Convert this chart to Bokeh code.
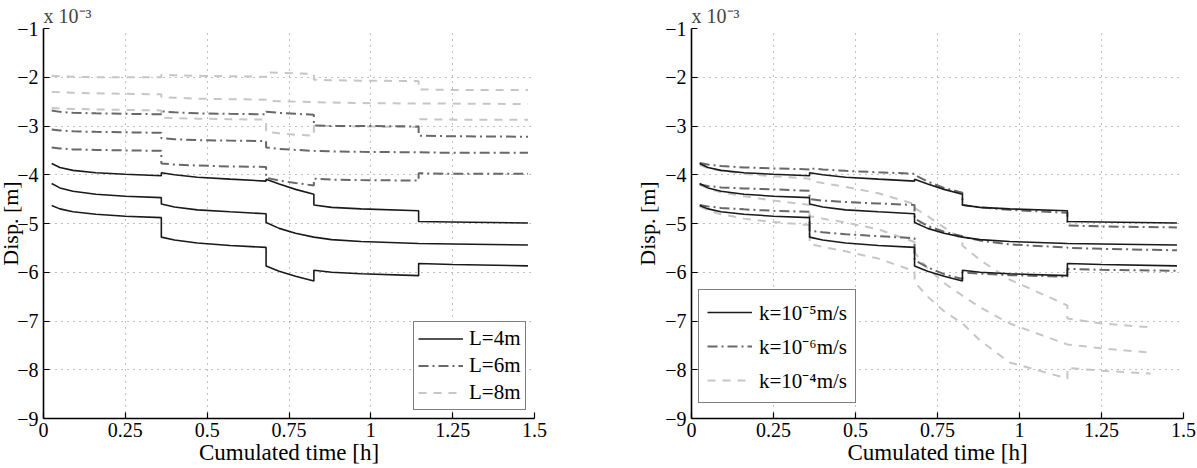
from bokeh.plotting import figure
from bokeh.layouts import row
from bokeh.models import (Range1d, FixedTicker, CustomJSTickFormatter,
                          Legend, LegendItem)
from bokeh.embed import file_html
from bokeh.resources import INLINE

# ---------------- data (displacement in units of 1e-3 m) ----------------
# cumulated time [h]; repeated times are load steps
T = [0.025, 0.05, 0.09, 0.16, 0.25, 0.36,
     0.36, 0.40, 0.47, 0.57, 0.68,
     0.68, 0.72, 0.77, 0.826,
     0.826, 0.88, 0.97, 1.146,
     1.146, 1.25, 1.48]
T_K4 = [0.025, 0.05, 0.09, 0.16, 0.25, 0.36,
        0.36, 0.40, 0.47, 0.57, 0.68,
        0.68, 0.72, 0.77, 0.826,
        0.826, 0.88, 0.97, 1.146,
        1.146, 1.25, 1.40]

# Left panel: pile length L
L4_a = [-3.77, -3.85, -3.91, -3.96, -3.99, -4.02,
        -3.96, -4.00, -4.05, -4.09, -4.13,
        -4.09, -4.19, -4.30, -4.40,
        -4.62, -4.67, -4.70, -4.74,
        -4.96, -4.97, -4.99]
L4_b = [-4.18, -4.27, -4.34, -4.40, -4.44, -4.47,
        -4.60, -4.66, -4.72, -4.76, -4.80,
        -4.98, -5.10, -5.20, -5.28,
        -5.28, -5.33, -5.37, -5.41,
        -5.41, -5.42, -5.44]
L4_c = [-4.63, -4.70, -4.76, -4.81, -4.85, -4.88,
        -5.28, -5.34, -5.40, -5.45, -5.49,
        -5.87, -5.98, -6.08, -6.18,
        -5.96, -6.00, -6.03, -6.07,
        -5.82, -5.84, -5.87]
L6_a = [-2.68, -2.71, -2.73, -2.74, -2.75, -2.76,
        -2.70, -2.72, -2.74, -2.75, -2.76,
        -2.71, -2.73, -2.75, -2.77,
        -2.99, -3.00, -3.00, -3.01,
        -3.20, -3.21, -3.22]
L6_b = [-3.07, -3.09, -3.11, -3.12, -3.13, -3.14,
        -3.25, -3.27, -3.29, -3.30, -3.31,
        -3.44, -3.47, -3.49, -3.51,
        -3.51, -3.52, -3.53, -3.54,
        -3.54, -3.55, -3.55]
L6_c = [-3.44, -3.46, -3.48, -3.49, -3.50, -3.51,
        -3.77, -3.79, -3.81, -3.83, -3.84,
        -4.06, -4.12, -4.17, -4.22,
        -4.08, -4.10, -4.11, -4.12,
        -3.97, -3.98, -3.98]
L8_a = [-1.97, -1.98, -1.99, -2.00, -2.00, -2.00,
        -1.95, -1.96, -1.97, -1.98, -1.99,
        -1.90, -1.91, -1.92, -1.93,
        -2.05, -2.06, -2.07, -2.08,
        -2.25, -2.26, -2.26]
L8_b = [-2.30, -2.31, -2.32, -2.33, -2.34, -2.35,
        -2.41, -2.42, -2.44, -2.45, -2.46,
        -2.48, -2.49, -2.50, -2.51,
        -2.51, -2.52, -2.53, -2.54,
        -2.54, -2.54, -2.55]
L8_c = [-2.63, -2.64, -2.65, -2.66, -2.67, -2.68,
        -2.83, -2.84, -2.85, -2.86, -2.87,
        -3.12, -3.15, -3.18, -3.20,
        -3.00, -3.00, -3.01, -3.02,
        -2.86, -2.87, -2.87]

# Right panel: permeability k (k=1e-5 equals the L=4m case)
K5_a, K5_b, K5_c = L4_a, L4_b, L4_c
K6_a = [-3.76, -3.79, -3.82, -3.85, -3.87, -3.89,
        -3.87, -3.89, -3.92, -3.95, -3.98,
        -4.00, -4.14, -4.27, -4.37,
        -4.62, -4.67, -4.72, -4.78,
        -5.04, -5.06, -5.08]
K6_b = [-4.20, -4.23, -4.26, -4.28, -4.30, -4.33,
        -4.50, -4.53, -4.56, -4.59, -4.62,
        -4.90, -5.05, -5.17, -5.26,
        -5.27, -5.35, -5.43, -5.49,
        -5.50, -5.52, -5.55]
K6_c = [-4.62, -4.65, -4.68, -4.71, -4.74, -4.76,
        -5.15, -5.18, -5.22, -5.26, -5.30,
        -5.75, -5.90, -6.04, -6.14,
        -6.00, -6.03, -6.06, -6.09,
        -5.93, -5.95, -5.97]
K4_a = [-3.80, -3.86, -3.92, -3.98, -4.03, -4.08,
        -4.12, -4.17, -4.25, -4.38, -4.60,
        -4.68, -4.85, -5.08, -5.33,
        -5.45, -5.75, -6.15, -6.68,
        -6.95, -7.05, -7.13]
K4_b = [-4.20, -4.28, -4.36, -4.44, -4.53, -4.62,
        -4.85, -4.90, -4.98, -5.12, -5.38,
        -5.60, -5.92, -6.22, -6.48,
        -6.48, -6.72, -7.05, -7.48,
        -7.48, -7.56, -7.65]
K4_c = [-4.65, -4.73, -4.81, -4.90, -4.97, -5.03,
        -5.42, -5.48, -5.57, -5.72, -5.98,
        -6.20, -6.50, -6.80, -7.05,
        -7.05, -7.40, -7.85, -8.18,
        -7.96, -8.02, -8.08]

X_TICKS = [0, 0.25, 0.5, 0.75, 1, 1.25, 1.5]
Y_TICKS = [-9, -8, -7, -6, -5, -4, -3, -2, -1]
X_LABEL = "Cumulated time [h]"
Y_LABEL = "Disp. [m]"
SCALE_TEXT = "x 10\u207b\u00b3"
LEFT_LEGEND = ["L=4m", "L=6m", "L=8m"]
RIGHT_LEGEND = ["k=10\u207b\u2075m/s", "k=10\u207b\u2076m/s", "k=10\u207b\u2074m/s"]

FONT = "Liberation Serif"
SOLID = dict(line_color="#1a1a1a", line_width=1.6)
DASHDOT = dict(line_color="#686868", line_width=2.0, line_dash="10 4 2 4")
DASHED = dict(line_color="#c6c6c6", line_width=2.0, line_dash="8 7")

FRAME_W = 492


def make_fig(width, left, ylabel_standoff):
    p = figure(width=width, height=468, output_backend="svg", toolbar_location=None,
               x_range=Range1d(0, 1.5), y_range=Range1d(-9, -1),
               min_border_left=left, min_border_right=width - left - FRAME_W,
               min_border_top=28, min_border_bottom=50,
               title=SCALE_TEXT)
    p.outline_line_color = None
    p.background_fill_color = "white"
    p.border_fill_color = "white"
    p.title.text_font = FONT
    p.title.text_font_size = "20px"
    p.title.text_font_style = "normal"
    p.title.align = "left"
    p.title.standoff = 3
    p.title.offset = 0
    fmt = CustomJSTickFormatter(code="return tick < 0 ? '\u2212' + String(-tick) : String(tick);")
    p.xaxis.ticker = FixedTicker(ticks=X_TICKS)
    p.yaxis.ticker = FixedTicker(ticks=Y_TICKS)
    p.xaxis.formatter = fmt
    p.yaxis.formatter = fmt
    for ax in (p.xaxis[0], p.yaxis[0]):
        ax.axis_line_width = 1.6
        ax.axis_line_color = "black"
        ax.major_tick_in = 6
        ax.major_tick_out = 0
        ax.major_tick_line_width = 1.2
        ax.major_tick_line_color = "black"
        ax.minor_tick_line_color = None
        ax.major_label_text_font = FONT
        ax.major_label_text_font_size = "20px"
        ax.major_label_text_color = "black"
        ax.axis_label_text_font = FONT
        ax.axis_label_text_font_style = "normal"
        ax.axis_label_text_color = "black"
    p.xaxis.axis_label = X_LABEL
    p.xaxis.axis_label_text_font_size = "23px"
    p.xaxis.major_label_standoff = 4
    p.xaxis.axis_label_standoff = 0
    p.yaxis.axis_label = Y_LABEL
    p.yaxis.axis_label_text_font_size = "22px"
    p.yaxis.major_label_standoff = 5
    p.yaxis.axis_label_standoff = ylabel_standoff
    p.xgrid.ticker = FixedTicker(ticks=X_TICKS)
    p.ygrid.ticker = FixedTicker(ticks=Y_TICKS)
    for g in (p.xgrid[0], p.ygrid[0]):
        g.grid_line_color = "#808080"
        g.grid_line_dash = "1 5"
        g.grid_line_width = 1
    return p


def style_legend(lg):
    lg.label_text_font = FONT
    lg.label_text_font_size = "21px"
    lg.label_text_color = "black"
    lg.border_line_color = "black"
    lg.border_line_width = 1.6
    lg.background_fill_color = "white"
    lg.background_fill_alpha = 1.0
    lg.glyph_width = 45
    lg.margin = 0


# ---------------- left panel ----------------
# wider canvas shifted 5px left so its frame starts where the reference's does
p1 = make_fig(605, 47, -9)
p1.margin = (0, 0, 0, -5)
r8 = [p1.line(T, ys, **DASHED) for ys in (L8_a, L8_b, L8_c)]
r6 = [p1.line(T, ys, **DASHDOT) for ys in (L6_a, L6_b, L6_c)]
r4 = [p1.line(T, ys, **SOLID) for ys in (L4_a, L4_b, L4_c)]
lg1 = Legend(items=[LegendItem(label=LEFT_LEGEND[0], renderers=[r4[0]]),
                    LegendItem(label=LEFT_LEGEND[1], renderers=[r6[0]]),
                    LegendItem(label=LEFT_LEGEND[2], renderers=[r8[0]])],
             location=(370, 8))
style_legend(lg1)
lg1.padding = 4
lg1.spacing = 2
lg1.label_standoff = 6
lg1.label_height = 21
lg1.glyph_height = 21
p1.add_layout(lg1)

# ---------------- right panel ----------------
p2 = make_fig(597, 91, 2)
k4 = [p2.line(T_K4, ys, **DASHED) for ys in (K4_a, K4_b, K4_c)]
k6 = [p2.line(T, ys, **DASHDOT) for ys in (K6_a, K6_b, K6_c)]
k5 = [p2.line(T, ys, **SOLID) for ys in (K5_a, K5_b, K5_c)]
lg2 = Legend(items=[LegendItem(label=RIGHT_LEGEND[0], renderers=[k5[0]]),
                    LegendItem(label=RIGHT_LEGEND[1], renderers=[k6[0]]),
                    LegendItem(label=RIGHT_LEGEND[2], renderers=[k4[0]])],
             location=(7, 15))
style_legend(lg2)
lg2.padding = 8
lg2.spacing = 6
lg2.label_standoff = 7
lg2.label_height = 26
lg2.glyph_height = 26
p2.add_layout(lg2)

layout = row(p1, p2)
open("out.html", "w").write(file_html(layout, INLINE))
